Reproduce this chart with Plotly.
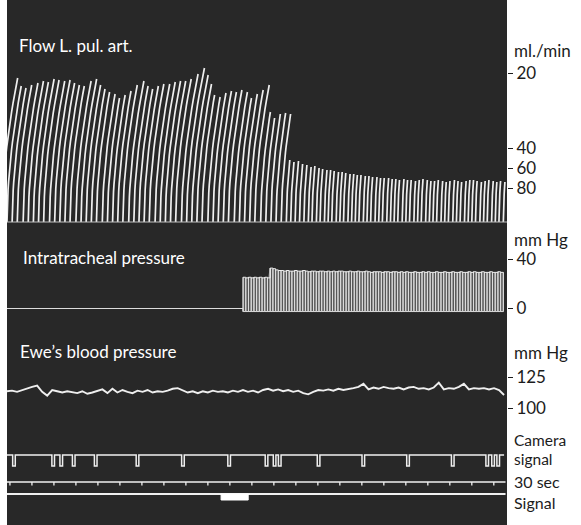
import numpy as np
import plotly.graph_objects as go

# ---------------- data (read from the recording) ----------------
# time axis: seconds from the left edge of the record
T_END = 682

# Flow L. pul. art. : drop-recorder strokes, onset time (s) and deflection (scale units)
flow_times = [-7, 0, 7, 14, 22, 29, 36, 43, 50, 58, 65, 72, 79, 86, 94, 101, 108, 115, 122, 130,
              137, 144, 151, 158, 166, 173, 180, 187, 194, 202, 209, 216, 223, 230, 238, 245, 252,
              259, 266, 274, 281, 288, 295, 302, 310, 317, 324, 331, 338, 346, 353, 360, 367, 374,
              381, 387, 393, 399, 405, 411, 416, 422, 427, 433, 438, 443, 449, 454, 459, 465, 470,
              475, 480, 486, 491, 496, 502, 507, 512, 518, 523, 528, 533, 539, 544, 549, 555, 560,
              565, 571, 576, 581, 586, 592, 597, 602, 608, 613, 618, 624, 629, 634, 639, 645, 650,
              655, 661, 666, 671, 677]
flow_heights = [144, 136, 134, 137, 139, 141, 140, 143, 142, 141,
                142, 139, 137, 136, 141, 143, 137, 133, 130, 128,
                124, 127, 131, 137, 141, 136, 133, 136, 138, 138,
                140, 141, 141, 143, 148, 154, 147, 138, 127, 125,
                129, 131, 130, 132, 130, 124, 128, 132, 137, 110,
                104, 108, 109, 108,
                62, 60, 61, 58, 57, 55, 56, 54, 53, 52,
                52, 51, 50, 50, 49, 48, 48, 47, 47, 46,
                46, 45, 45, 44, 44, 44, 43, 43, 42, 43,
                42, 42, 41, 42, 43, 42, 41, 41, 42, 41,
                40, 41, 42, 41, 40, 41, 42, 42, 41, 40,
                41, 42, 41, 40, 41, 40]
flow_tickvals = [149, 74, 54, 34]
flow_ticktext = ["20", "40", "60", "80"]

# Intratracheal pressure (mm Hg): ventilation cycles from ITP_T0 to ITP_T1
ITP_T0, ITP_T1 = 322, 677
ITP_TROUGH = -2.5
itp_peaks = [25.5, 25, 25.5, 25, 25.5, 25, 25.5, 25, 25.5, 25,
             33, 32.5, 31.5, 31, 31, 30.5, 31, 30.5, 30.5, 31,
             30.5, 30.5, 31, 30.5, 30, 30.5, 30.5, 30, 30.5, 30.5,
             30, 30.5, 30, 30.5, 30, 30.5, 30.5, 30, 30, 30.5,
             30, 30, 30.5, 30, 30, 30.5, 30, 29.5, 30, 30,
             30, 29.5, 30, 30, 29.5, 30, 30, 29.5, 30, 29.5,
             30, 29.5, 29.5, 30, 29.5, 29.5, 30, 29.5, 30, 29.5,
             29.5, 30, 29.5, 29.5, 30, 29.5, 29.5, 30, 29.5, 29.5,
             30, 29.5, 29.5, 30, 29.5, 30, 29.5, 29.5, 30, 29.5,
             29.5, 30, 29.5, 29.5, 30, 29.5, 29.5]
itp_tickvals = [40, 0]

# Ewe's blood pressure (mm Hg), sampled evenly from BP_T0 to BP_T1
BP_T0, BP_T1 = 0, 678
bp_values = [113.5, 114, 113, 114.5, 115.5, 117, 118, 113, 110, 114.5,
             113.5, 112.5, 113.5, 113, 112, 113.5, 111.5, 112.5, 114, 115,
             112, 115.5, 112.5, 114.5, 113, 112, 114, 113, 114.5, 112.5,
             113.5, 113, 114, 115.5, 116, 114, 112.5, 113.5, 112, 113.5,
             112.5, 114, 113, 113.5, 112.5, 114, 113, 114.5, 113, 114,
             112.5, 114.5, 115.5, 114, 115, 113.5, 114.5, 113, 114, 112,
             111, 113, 114.5, 114, 115, 114, 115.5, 114.5, 115, 116,
             117, 119.5, 115, 116.5, 115.5, 117, 116, 115.5, 116.5, 115,
             116.5, 117, 115.5, 116, 115, 116.5, 120.5, 115, 116, 115.5,
             117, 119.5, 115, 116, 115.5, 116, 115, 116, 114.5, 110.5]
bp_tickvals = [125, 100]

# Camera signal marks, 30-sec time marks, signal (s)
camera_times = [9.5, 63, 74, 91, 121, 178, 240, 303, 354, 365, 372, 425, 486, 547, 608, 655, 663, 670]
timer_times = [4, 34, 64, 94, 124, 154, 184, 214, 244, 274, 304, 334, 364, 394, 424, 454, 484,
               514, 544, 574, 604, 634, 664]
signal_on = [292, 329]

# ---------------- style ----------------
W, H = 581, 525
PANEL_X0, PANEL_X1 = 7, 507
BG = "#282828"
TRACE = "#efefef"
INK = "#1c1c1c"
FONT = "Lato"

def py(px):  # pixel row -> paper fraction
    return 1 - px / H

def pxx(px):
    return px / W

fig = go.Figure()

# --- flow strokes (arc-shaped pen strokes) ---
H_REF, LEAN_S = 142.0, 21.0
fx, fy = [], []
for t0, d in zip(flow_times, flow_heights):
    hs = np.linspace(0, d, 18)
    fx += list(t0 + LEAN_S * (hs / H_REF) ** 1.8) + [None]
    fy += list(hs) + [None]
fig.add_trace(go.Scatter(x=fx, y=fy, mode="lines", line=dict(color=TRACE, width=1.7),
                         yaxis="y", hoverinfo="skip"))
fig.add_trace(go.Scatter(x=[0, T_END], y=[0, 0], mode="lines", line=dict(color="#bdbdbd", width=1),
                         yaxis="y", hoverinfo="skip"))

# --- intratracheal pressure ---
itp_t = np.linspace(ITP_T0, ITP_T1, len(itp_peaks))
fill_x = list(itp_t) + list(itp_t[::-1])
fill_y = list(itp_peaks) + [ITP_TROUGH] * len(itp_t)
fig.add_trace(go.Scatter(x=fill_x, y=fill_y, fill="toself", fillcolor="rgba(200,200,200,0.30)",
                         mode="lines", line=dict(width=0), yaxis="y2", hoverinfo="skip"))
ix, iy = [0, ITP_T0], [0, 0]
for t, p in zip(itp_t, itp_peaks):
    ix += [t, t, t]
    iy += [ITP_TROUGH, p, ITP_TROUGH]
fig.add_trace(go.Scatter(x=ix, y=iy, mode="lines", line=dict(color="#dcdcdc", width=1),
                         yaxis="y2", hoverinfo="skip"))
fig.add_trace(go.Scatter(x=list(itp_t), y=itp_peaks, mode="lines", line=dict(color=TRACE, width=1),
                         line_shape="hv", yaxis="y2", hoverinfo="skip"))

# --- blood pressure ---
bp_t = np.linspace(BP_T0, BP_T1, len(bp_values))
fig.add_trace(go.Scatter(x=bp_t, y=bp_values, mode="lines", line=dict(color=TRACE, width=1.9),
                         yaxis="y3", hoverinfo="skip"))

# --- event channels (levels in channel units) ---
CAM_LEVEL, CAM_DEPTH, CAM_HALF = 70, 11, 1.8
TIMER_LEVEL, TIMER_DEPTH = 43, 3.5
SIG_LEVEL, SIG_DEPTH = 31, 6
cx, cy = [0], [CAM_LEVEL]
for t in camera_times:
    cx += [t - CAM_HALF, t - CAM_HALF, t + CAM_HALF, t + CAM_HALF]
    cy += [CAM_LEVEL, CAM_LEVEL - CAM_DEPTH, CAM_LEVEL - CAM_DEPTH, CAM_LEVEL]
cx.append(T_END - 4)
cy.append(CAM_LEVEL)
fig.add_trace(go.Scatter(x=cx, y=cy, mode="lines", line=dict(color=TRACE, width=1.5),
                         yaxis="y4", hoverinfo="skip"))
tx, ty = [0], [TIMER_LEVEL]
for t in timer_times:
    tx += [t, t, t]
    ty += [TIMER_LEVEL, TIMER_LEVEL - TIMER_DEPTH, TIMER_LEVEL]
tx.append(T_END - 2)
ty.append(TIMER_LEVEL)
fig.add_trace(go.Scatter(x=tx, y=ty, mode="lines", line=dict(color=TRACE, width=1.3),
                         yaxis="y4", hoverinfo="skip"))
fig.add_trace(go.Scatter(x=[0, T_END - 2], y=[SIG_LEVEL, SIG_LEVEL], mode="lines",
                         line=dict(color=TRACE, width=1.8), yaxis="y4", hoverinfo="skip"))
fig.add_trace(go.Scatter(x=[signal_on[0], signal_on[1], signal_on[1], signal_on[0], signal_on[0]],
                         y=[SIG_LEVEL, SIG_LEVEL, SIG_LEVEL - SIG_DEPTH, SIG_LEVEL - SIG_DEPTH, SIG_LEVEL],
                         mode="lines", fill="toself", fillcolor="#ffffff",
                         line=dict(color="#ffffff", width=1), yaxis="y4", hoverinfo="skip"))

# ---------------- axes ----------------
yax = dict(side="right", anchor="x", showgrid=False, zeroline=False, showline=False,
           ticks="outside", ticklen=5, tickwidth=1.3, tickcolor=INK,
           tickfont=dict(family=FONT, size=17, color=INK), fixedrange=True)

def dom(top_px, bot_px):
    return [py(bot_px), py(top_px)]

fig.update_layout(
    width=W, height=H, margin=dict(l=0, r=0, t=0, b=0),
    paper_bgcolor="white", plot_bgcolor="rgba(0,0,0,0)", showlegend=False,
    xaxis=dict(domain=[pxx(PANEL_X0), pxx(PANEL_X1)], range=[0, T_END], visible=False, fixedrange=True),
    yaxis=dict(yax, domain=dom(28, 226), range=[-4, 194],
               tickvals=flow_tickvals, ticktext=flow_ticktext),
    yaxis2=dict(yax, domain=dom(235, 318), range=[-7.755, 60.0],
                tickvals=itp_tickvals, ticktext=[str(v) for v in itp_tickvals]),
    yaxis3=dict(yax, domain=dom(335, 425), range=[86.29, 158.87],
                tickvals=bp_tickvals, ticktext=[str(v) for v in bp_tickvals]),
    yaxis4=dict(domain=dom(430, 525), range=[0, 95], anchor="x", visible=False, fixedrange=True),
    shapes=[dict(type="rect", xref="paper", yref="paper", x0=pxx(PANEL_X0), x1=pxx(PANEL_X1),
                 y0=0, y1=1, fillcolor=BG, line=dict(width=0), layer="below")],
)

def label(text, x_px, y_px, color, size=17, anchor="left"):
    fig.add_annotation(text=text, x=pxx(x_px), y=py(y_px), xref="paper", yref="paper",
                       xanchor=anchor, yanchor="middle", showarrow=False,
                       font=dict(family=FONT, size=size, color=color))

label("Flow L. pul. art.", 17, 45, "white")
label("Intratracheal pressure", 21, 257, "white")
label("Ewe\u2019s blood pressure", 18, 351, "white")
label("ml./min", 512, 50, INK)
label("mm Hg", 512, 240, INK)
label("mm Hg", 512, 352, INK)
label("Camera", 512, 440, INK, size=15.5)
label("signal", 512, 459, INK, size=15.5)
label("30 sec", 512, 481, INK, size=16)
label("Signal", 512, 502, INK, size=16)

fig.write_html("out.html")
